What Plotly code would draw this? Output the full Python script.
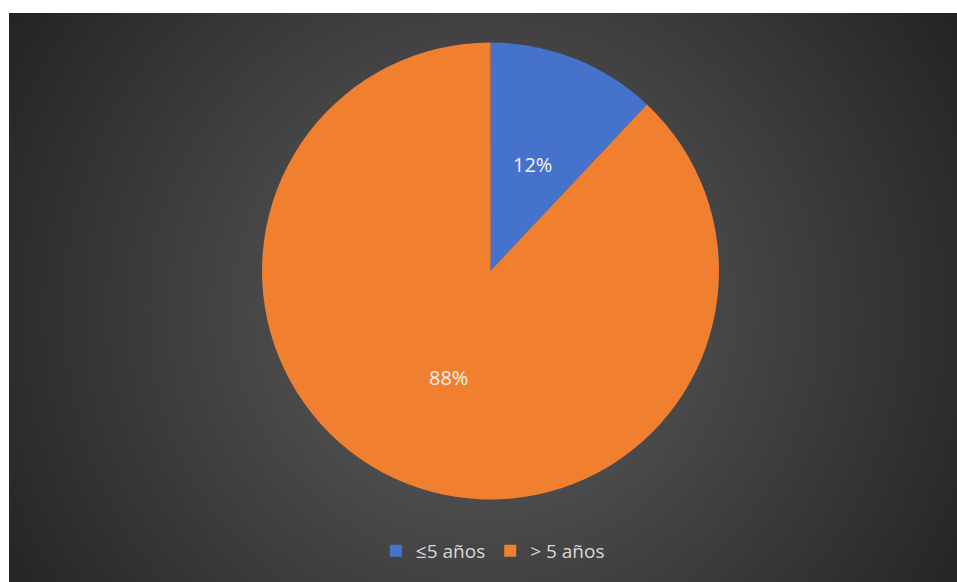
import base64, struct, zlib
import numpy as np
import plotly.graph_objects as go

# ---- data ----
labels = ["≤5 años", "> 5 años"]
values = [12, 88]
pct_text = ["12%", "88%"]
colors = ["#4573CC", "#F07F30"]

W, H = 957, 582

# ---- radial gradient background (style only) ----
bx0, by0 = 9, 13
bw, bh = W - bx0, H - by0
yy, xx = np.mgrid[0:bh, 0:bw]
cxg, cyg = 483 - bx0, 310 - by0
d = np.sqrt((xx - cxg) ** 2 + (yy - cyg) ** 2)
g = 96 - (96 - 36) * np.clip(d / 560.0, 0, 1)
g = np.clip(g, 0, 255).astype(np.uint8)
raw = b"".join(b"\x00" + g[i].tobytes() for i in range(bh))

def chunk(t, data):
    c = struct.pack(">I", len(data)) + t + data
    return c + struct.pack(">I", zlib.crc32(t + data) & 0xFFFFFFFF)

png = b"\x89PNG\r\n\x1a\n" + chunk(b"IHDR", struct.pack(">IIBBBBB", bw, bh, 8, 0, 0, 0, 0)) \
      + chunk(b"IDAT", zlib.compress(raw, 9)) + chunk(b"IEND", b"")
uri = "data:image/png;base64," + base64.b64encode(png).decode()

# ---- pie geometry (pixels) ----
cx, cy, R = 490.5, 271.0, 228.5

fig = go.Figure()
fig.add_trace(go.Pie(
    labels=labels, values=values, sort=False, direction="clockwise", rotation=0,
    marker=dict(colors=colors, line=dict(color="rgba(0,0,0,0)", width=0)),
    textinfo="none", hoverinfo="label+percent",
    domain=dict(x=[(cx - R) / W, (cx + R) / W], y=[1 - (cy + R) / H, 1 - (cy - R) / H]),
))

# data labels placed at mid-angle of each slice, half the radius out
total = sum(values)
cum = 0
for v, t in zip(values, pct_text):
    a = (cum + v / 2) / total * 2 * np.pi
    cum += v
    px = cx + 0.5 * R * np.sin(a)
    py = cy - 0.5 * R * np.cos(a)
    fig.add_annotation(x=px / W, y=1 - py / H, xref="paper", yref="paper", text=t,
                       xanchor="center", yanchor="middle", showarrow=False,
                       font=dict(family="Open Sans", size=20, color="#F2F2F2"))

fig.update_layout(
    width=W, height=H, margin=dict(l=0, r=0, t=0, b=0),
    paper_bgcolor="white", plot_bgcolor="white",
    images=[dict(source=uri, xref="paper", yref="paper", x=bx0 / W, y=1 - by0 / H,
                 sizex=bw / W, sizey=bh / H, xanchor="left", yanchor="top",
                 sizing="stretch", layer="below")],
    showlegend=True,
    legend=dict(orientation="h", x=0.515, xanchor="center", y=1 - 551 / H, yanchor="middle",
                font=dict(family="Open Sans", size=19, color="#D9D9D9"),
                bgcolor="rgba(0,0,0,0)", itemwidth=30, traceorder="normal"),
)

fig.write_html("out.html")
